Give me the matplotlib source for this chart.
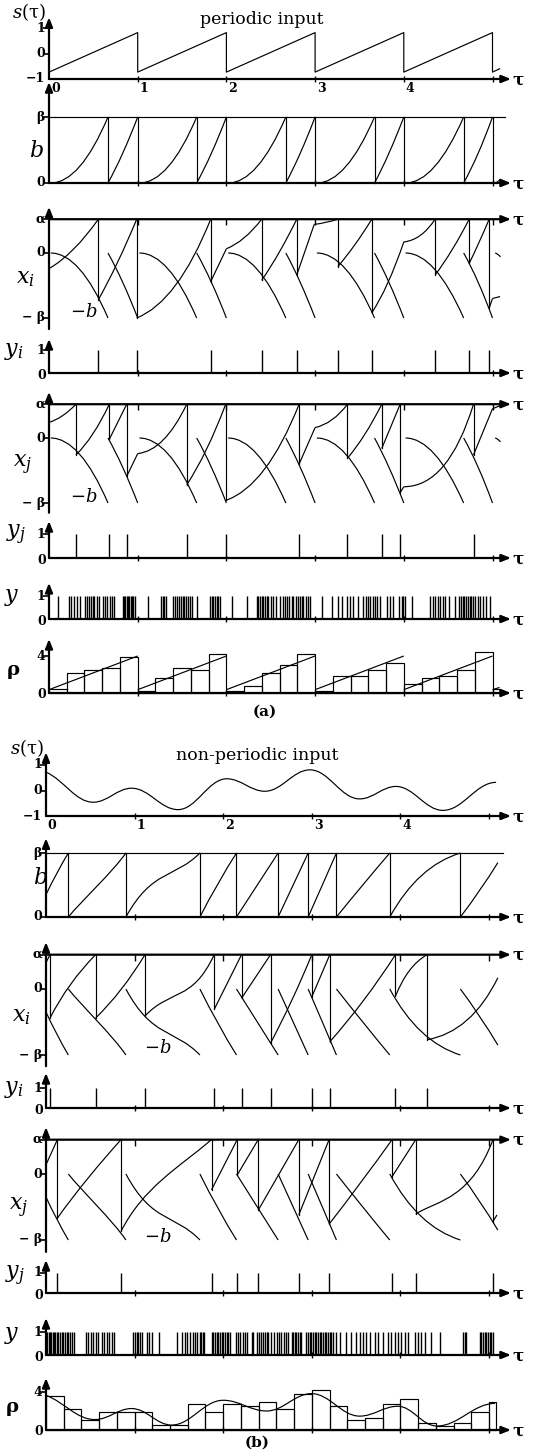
import matplotlib
matplotlib.use("Agg")
import matplotlib.pyplot as plt
from matplotlib.path import Path
from matplotlib.patches import PathPatch
from matplotlib.markers import TICKLEFT
import numpy as np

plt.rcParams['font.family'] = ['DejaVu Serif']
plt.rcParams['mathtext.fontset'] = 'dejavuserif'

W, H = 536, 1456
A = 0.52          # alpha level (beta = 1)
XTICKS = [1, 2, 3, 4, 5]

# ======================= (a) periodic input =======================
s_a_t = [0, 1, 1, 2, 2, 3, 3, 4, 4, 5, 5, 5.08]
s_a_v = [-0.73, 0.82, -0.73, 0.82, -0.73, 0.82, -0.73, 0.82, -0.73, 0.82, -0.73, -0.6]

b_a = [
    [(0.02, 0.0), (0.35, 0.0), (0.665, 1.0)],
    [(0.665, 0.0), (0.83, 0.4), (1.0, 1.0)],
    [(1.02, 0.0), (1.35, 0.0), (1.665, 1.0)],
    [(1.665, 0.0), (1.83, 0.4), (2.0, 1.0)],
    [(2.02, 0.0), (2.35, 0.0), (2.67, 1.0)],
    [(2.67, 0.0), (2.83, 0.4), (3.0, 1.0)],
    [(3.02, 0.0), (3.35, 0.0), (3.67, 1.0)],
    [(3.67, 0.0), (3.83, 0.4), (4.0, 1.0)],
    [(4.02, 0.0), (4.35, 0.0), (4.675, 1.0)],
    [(4.675, 0.0), (4.84, 0.4), (5.0, 1.0)],
    [(5.03, 0.0), (5.06, 0.01), (5.09, 0.06)],
]

xi_a = [
    [[(0.0, -0.24), (0.28, -0.02), (0.556, A)]],
    [[(0.556, -0.72), (0.77, -0.2), (0.989, A)]],
    [[(0.989, -1.0), (1.45, -0.75), (1.823, A)]],
    [[(1.823, -0.44), (2.0, 0.066)], [(2.0, 0.066), (2.2, 0.17), (2.398, A)]],
    [[(2.398, -0.42), (2.6, -0.02), (2.793, A)]],
    [[(2.793, -0.34), (2.99, 0.44)], [(2.99, 0.44), (3.12, 0.46), (3.256, A)]],
    [[(3.256, -0.21), (3.45, 0.1), (3.639, A)]],
    [[(3.639, -0.92), (3.82, -0.55), (4.0, 0.17)], [(4.0, 0.17), (4.2, 0.2), (4.353, A)]],
    [[(4.353, -0.34), (4.55, 0.02), (4.737, A)]],
    [[(4.737, -0.16), (4.85, 0.15), (4.962, A)]],
    [[(4.962, -0.85), (5.0, -0.70)], [(5.0, -0.70), (5.086, -0.67)]],
]

xj_a = [
    [[(0.0, 0.24), (0.15, 0.30), (0.304, A)]],
    [[(0.304, -0.26), (0.5, 0.0), (0.68, A)]],
    [[(0.68, -0.02), (0.876, A)]],
    [[(0.876, -0.59), (1.0, -0.24)], [(1.0, -0.24), (1.3, -0.2), (1.553, A)]],
    [[(1.553, -0.72), (1.78, -0.25), (1.992, A)]],
    [[(1.992, -0.96), (2.45, -0.75), (2.82, A)]],
    [[(2.82, -0.40), (3.0, 0.16)], [(3.0, 0.16), (3.2, 0.22), (3.365, A)]],
    [[(3.365, -0.31), (3.56, 0.0), (3.752, A)]],
    [[(3.752, -0.16), (3.959, A)]],
    [[(3.959, -0.84), (4.0, -0.75)], [(4.0, -0.75), (4.5, -0.75), (4.786, A)]],
    [[(4.786, -0.26), (5.0, 0.45)], [(5.0, 0.45), (5.09, 0.5)]],
]

yi_a = [0.556, 0.989, 1.823, 2.398, 2.793, 3.256, 3.639, 4.353, 4.737, 4.962]
yj_a = [0.304, 0.68, 0.876, 1.553, 1.992, 2.82, 3.365, 3.752, 3.959, 4.786]

y_a = [0.105, 0.229, 0.248, 0.282, 0.320, 0.350, 0.406, 0.432, 0.455, 0.470,
       0.492, 0.511, 0.538, 0.564, 0.613, 0.632, 0.658, 0.688, 0.714, 0.737,
       0.831, 0.846, 0.861, 0.876, 0.891, 0.906, 0.921, 0.936, 0.951, 0.970,
       1.120, 1.263, 1.282, 1.301, 1.316, 1.402, 1.421, 1.440, 1.466, 1.489,
       1.508, 1.526, 1.545, 1.571, 1.590, 1.609, 1.665, 1.816, 1.835, 1.853,
       1.872, 1.891, 1.910, 1.929, 2.060, 2.229, 2.342, 2.361, 2.380, 2.398,
       2.417, 2.436, 2.455, 2.474, 2.500, 2.530, 2.560, 2.605, 2.635, 2.662,
       2.688, 2.711, 2.737, 2.756, 2.786, 2.812, 2.831, 2.850, 2.868, 2.898,
       2.925, 2.944, 3.075, 3.188, 3.263, 3.301, 3.357, 3.395, 3.432, 3.489,
       3.545, 3.571, 3.594, 3.620, 3.650, 3.677, 3.695, 3.733, 3.808, 3.846,
       3.876, 3.951, 3.977, 3.996, 4.015, 4.090, 4.297, 4.327, 4.353, 4.380,
       4.410, 4.440, 4.466, 4.504, 4.579, 4.617, 4.643, 4.665, 4.684, 4.703,
       4.722, 4.741, 4.759, 4.778, 4.805, 4.831, 4.857, 4.895, 4.932, 4.970]

rho_a_bins = [0.43, 2.14, 2.5, 2.75, 3.93,
              0.18, 1.6, 2.75, 2.5, 4.2,
              0.18, 0.71, 2.14, 3.04, 4.2,
              0.18, 1.86, 1.86, 2.5, 3.29,
              0.96, 1.6, 1.86, 2.5, 4.46]
rho_a_tail = 0.43
rho_a_line = [[(0, 0.36), (1, 4.0)], [(1, 0.36), (2, 4.0)], [(2, 0.36), (3, 4.0)],
              [(3, 0.36), (4, 4.0)], [(4, 0.36), (5, 4.0)], [(5, 0.36), (5.08, 0.6)]]

# ======================= (b) non-periodic input =======================
s_b_t = [0.0, 0.534, 0.966, 1.49, 2.04, 2.47, 2.98, 3.54, 3.95, 4.48, 5.08]
s_b_v = [0.72, -0.46, 0.09, -0.75, 0.46, -0.03, 0.81, -0.33, 0.16, -0.78, 0.32]
s_b_start_slope = -1.5

b_b = [
    [(0.0, 0.35), (0.12, 0.70), (0.252, 1.0)],
    [(0.252, 0.0), (0.40, 0.25), (0.75, 0.70), (0.902, 1.0)],
    [(0.902, 0.0), (1.20, 0.75), (1.45, 0.60), (1.737, 1.0)],
    [(1.737, 0.0), (1.94, 0.55), (2.15, 1.0)],
    [(2.15, 0.0), (2.385, 0.5), (2.62, 1.0)],
    [(2.62, 0.0), (2.79, 0.5), (2.959, 1.0)],
    [(2.959, 0.0), (3.12, 0.5), (3.278, 1.0)],
    [(3.278, 0.0), (3.6, 0.55), (3.88, 1.0)],
    [(3.88, 0.0), (4.2, 0.8), (4.677, 1.0)],
    [(4.677, 0.0), (4.9, 0.4), (5.1, 0.85)],
]

xi_b = [
    [[(0.0, 0.40), (0.045, A)]],
    [[(0.045, -0.44), (0.25, 0.10), (0.56, A)]],
    [[(0.56, -0.44), (0.86, -0.05), (1.117, A)]],
    [[(1.117, -0.41), (1.40, 0.0), (1.65, -0.2), (1.898, A)]],
    [[(1.898, -0.31), (2.207, A)]],
    [[(2.207, -0.14), (2.534, A)]],
    [[(2.534, -0.82), (2.78, -0.2), (3.0, A)]],
    [[(3.0, -0.12), (3.203, A)]],
    [[(3.203, -0.80), (3.6, -0.2), (3.944, A)]],
    [[(3.944, -0.11), (4.08, 0.35), (4.3, A)]],
    [[(4.3, -0.77), (4.8, -0.65), (5.1, 0.17)]],
]

xj_b = [
    [[(0.0, 0.14), (0.128, A)]],
    [[(0.128, -0.67), (0.35, -0.25), (0.6, 0.15), (0.846, A)]],
    [[(0.846, -0.87), (1.1, -0.2), (1.5, 0.1), (1.868, A)]],
    [[(1.868, -0.24), (2.158, A)]],
    [[(2.158, -0.015), (2.395, A)]],
    [[(2.395, -0.55), (2.853, A)]],
    [[(2.853, -0.62), (3.195, A)]],
    [[(3.195, -0.76), (3.55, -0.15), (3.906, A)]],
    [[(3.906, -0.04), (4.173, A)]],
    [[(4.173, -0.6), (4.45, -0.4), (4.8, -0.35), (5.045, A)]],
    [[(5.045, -0.72), (5.09, -0.62)]],
]

yi_b = [0.045, 0.56, 1.117, 1.898, 2.207, 2.534, 3.0, 3.203, 3.944, 4.3]
yj_b = [0.128, 0.846, 1.868, 2.158, 2.395, 2.853, 3.195, 3.906, 4.173, 5.045]

y_b = [0.015, 0.030, 0.045, 0.060, 0.075, 0.090, 0.105, 0.120, 0.139, 0.158,
       0.177, 0.195, 0.214, 0.233, 0.252, 0.271, 0.289, 0.316,
       0.451, 0.477, 0.504, 0.534, 0.564, 0.590, 0.628, 0.654, 0.684, 0.714,
       0.741, 0.767, 0.985, 1.004, 1.023, 1.041, 1.060, 1.079, 1.135, 1.165,
       1.192, 1.278, 1.474, 1.530, 1.568, 1.586, 1.624, 1.662, 1.680, 1.699,
       1.737, 1.752, 1.767, 1.782, 1.868, 1.887, 1.906, 1.925, 1.944, 1.962,
       1.981, 2.000, 2.019, 2.038, 2.056, 2.075, 2.150, 2.169, 2.188, 2.218,
       2.244, 2.263, 2.320, 2.338, 2.376, 2.406, 2.432, 2.451, 2.470, 2.489,
       2.508, 2.545, 2.571, 2.602, 2.632, 2.658, 2.684, 2.707, 2.733, 2.771,
       2.789, 2.808, 2.827, 2.846, 2.865, 2.883, 2.940, 2.959, 2.977, 2.996,
       3.015, 3.034, 3.053, 3.071, 3.090, 3.109, 3.128, 3.147, 3.165, 3.184,
       3.203, 3.222, 3.241, 3.278, 3.316, 3.391, 3.447, 3.504, 3.541, 3.579,
       3.617, 3.654, 3.711, 3.748, 3.805, 3.861, 3.898, 3.936, 3.974, 4.011,
       4.049, 4.086, 4.162, 4.199, 4.237, 4.274, 4.350, 4.444, 4.707, 4.726,
       4.744, 4.895, 4.914, 4.932, 4.951, 4.970, 4.989, 5.008, 5.026, 5.045]

rho_b_bins = [3.55, 2.2, 1.05, 1.9, 1.9,
              1.9, 0.5, 0.5, 2.7, 1.9,
              2.7, 2.5, 3.0, 2.2, 3.8,
              4.2, 2.5, 1.05, 1.3, 2.7,
              3.3, 0.75, 0.4, 0.75, 1.9]
rho_b_tail = 2.9
rho_b_t = [0.0, 0.553, 0.966, 1.417, 2.0, 2.49, 2.996, 3.54, 3.97, 4.41, 5.07]
rho_b_v = [3.65, 1.1, 2.26, 0.52, 3.13, 2.0, 3.83, 1.46, 2.5, 0.42, 2.8]
rho_b_start_slope = -3.5

BIN_W = 0.2

# ======================= drawing helpers =======================
fig = plt.figure(figsize=(W / 100, H / 100), dpi=100)
fig.patch.set_facecolor('white')

LW_AX = 1.6
LW_C = 0.85
TICK_FS = 9


def panel(x0, sx, v1, p1, v2, p2):
    ax = fig.add_axes([0, 0, 1, 1])
    ax.set_xlim(-x0 / sx, (W - x0) / sx)
    k = (v2 - v1) / (p2 - p1)
    ax.set_ylim(v1 + (H - p1) * k, v1 - p1 * k)
    ax.axis('off')
    return ax


def bez(ax, pts, sign=1.0, lw=LW_C):
    pts = [(t, sign * v) for t, v in pts]
    n = len(pts)
    if n == 2:
        codes = [Path.MOVETO, Path.LINETO]
    elif n == 3:
        codes = [Path.MOVETO, Path.CURVE3, Path.CURVE3]
    else:
        codes = [Path.MOVETO, Path.CURVE4, Path.CURVE4, Path.CURVE4]
    ax.add_patch(PathPatch(Path(pts, codes), fill=False, lw=lw, ec='k',
                           capstyle='butt', clip_on=False))


def smooth(ax, ts, vs, start_slope=0.0, lw=LW_C):
    verts = [(ts[0], vs[0])]
    codes = [Path.MOVETO]
    for i in range(len(ts) - 1):
        d = ts[i + 1] - ts[i]
        h = 0.38 * d
        c1y = vs[i] + (start_slope * h if i == 0 else 0.0)
        verts += [(ts[i] + h, c1y), (ts[i + 1] - h, vs[i + 1]), (ts[i + 1], vs[i + 1])]
        codes += [Path.CURVE4] * 3
    ax.add_patch(PathPatch(Path(verts, codes), fill=False, lw=lw, ec='k', clip_on=False))


def arrow(ax, x0, y0, x1, y1):
    ax.annotate('', xy=(x1, y1), xytext=(x0, y0), annotation_clip=False,
                arrowprops=dict(arrowstyle='-|>,head_length=0.55,head_width=0.22',
                                lw=LW_AX, color='k', shrinkA=0, shrinkB=0))


def tlabel(ax, text, xy, dx, dy, ha='right'):
    ax.annotate(text, xy=xy, xytext=(dx, dy), textcoords='offset points',
                ha=ha, va='center', fontsize=TICK_FS, fontweight='bold',
                annotation_clip=False)


def frame(ax, base, ylo, yhi, yticks, ylabels, xend, xtick_marker='|'):
    arrow(ax, 0, base, xend, base)
    arrow(ax, 0, ylo, 0, yhi)
    ax.plot(XTICKS, [base] * len(XTICKS), ls='none', marker=xtick_marker, ms=4,
            mew=1.0, color='k', clip_on=False)
    ax.plot([0] * len(yticks), yticks, ls='none', marker=TICKLEFT, ms=4,
            mew=1.2, color='k', clip_on=False)
    for v, lab in zip(yticks, ylabels):
        tlabel(ax, lab, (0, v), -3, 0)
    ax.annotate('τ', xy=(xend, base), xytext=(1.0, -0.5), textcoords='offset points',
                ha='left', va='center', fontsize=12, fontweight='bold',
                annotation_clip=False)


def ptext(px, py, s, size=12, **kw):
    fig.text(px / W, 1 - py / H, s, ha='center', va='center', fontsize=size, **kw)


def trajectory(ax, segs):
    for i, seg in enumerate(segs):
        for piece in seg:
            bez(ax, piece)
        if i + 1 < len(segs):
            t_end = seg[-1][-1][0]
            y_end = seg[-1][-1][1]
            y_next = segs[i + 1][0][0][1]
            ax.plot([t_end, t_end], [y_end, y_next], color='k', lw=LW_C, clip_on=False)


def b_panel(ax, ramps, hline_end):
    ax.plot([0, hline_end], [1, 1], color='k', lw=LW_C, clip_on=False)
    for r in ramps:
        bez(ax, r)
        if r[-1][1] >= 0.999:
            ax.plot([r[-1][0], r[-1][0]], [0, 1], color='k', lw=LW_C, clip_on=False)


def spikes(ax, times):
    ax.vlines(times, 0, 1, colors='k', lw=1.0, clip_on=False)


def rho_bars(ax, bins, tail):
    left = np.arange(len(bins)) * BIN_W
    ax.bar(left, bins, width=BIN_W, align='edge', fill=False, edgecolor='k',
           lw=0.85, clip_on=False)
    ax.bar([len(bins) * BIN_W], [tail], width=0.08, align='edge', fill=False,
           edgecolor='k', lw=0.85, clip_on=False)


def s_ticklabels(ax, base):
    for k in range(5):
        tlabel(ax, str(k), (k, base), 4.5, -6.5, ha='center')


# ======================= (a) =======================
XA0, SXA = 49, 88.7
XEND_A = (511 - XA0) / SXA

ax = panel(XA0, SXA, 1, 28, -1, 79)
ax.plot(s_a_t, s_a_v, color='k', lw=LW_C, clip_on=False)
frame(ax, -1, -1, 1.42, [1, 0], ['1', '0'], XEND_A)
tlabel(ax, '−1', (0, -1), -3, 0)
s_ticklabels(ax, -1)
ptext(29, 12, r'$s$(τ)', size=13)
ptext(262, 20, 'periodic input', size=12.5)

ax = panel(XA0, SXA, 1, 117, 0, 183)
b_panel(ax, b_a, 5.14)
frame(ax, 0, 0, 1.53, [1, 0], ['β', '0'], XEND_A)
ptext(36, 151, r'$b$', size=16)

ax = panel(XA0, SXA, 0, 253, -1, 318)
for r in b_a:
    bez(ax, r, sign=-1)
trajectory(ax, xi_a)
frame(ax, A, -1.17, 0.71, [A, 0, -1], ['α', '0', '− β'], XEND_A, xtick_marker=3)
ptext(25, 278, r'$x_i$', size=16)
ptext(84, 312, r'$-b$', size=13)

ax = panel(XA0, SXA, 1, 350, 0, 373)
spikes(ax, yi_a)
frame(ax, 0, 0, 1.48, [1], ['1'], XEND_A)
tlabel(ax, '0', (0, 0), -2, -2)
ptext(14, 351, r'$y_i$', size=16)

ax = panel(XA0, SXA, 0, 438, -1, 503)
for r in b_a:
    bez(ax, r, sign=-1)
trajectory(ax, xj_a)
frame(ax, A, -1.15, 0.71, [A, 0, -1], ['α', '0', '− β'], XEND_A, xtick_marker=3)
ptext(23, 465, r'$x_j$', size=16)
ptext(84, 497, r'$-b$', size=13)

ax = panel(XA0, SXA, 1, 534, 0, 558)
spikes(ax, yj_a)
frame(ax, 0, 0, 1.54, [1], ['1'], XEND_A)
tlabel(ax, '0', (0, 0), -2, -2)
ptext(16, 535, r'$y_j$', size=16)

ax = panel(XA0, SXA, 1, 596, 0, 619)
spikes(ax, y_a)
frame(ax, 0, 0, 1.57, [1], ['1'], XEND_A)
tlabel(ax, '0', (0, 0), -2, -2)
ptext(12, 597, r'$y$', size=16)

ax = panel(XA0, SXA, 4, 656, 0, 693)
rho_bars(ax, rho_a_bins, rho_a_tail)
for seg in rho_a_line:
    bez(ax, seg)
frame(ax, 0, 0, 5.84, [4], ['4'], XEND_A)
tlabel(ax, '0', (0, 0), -2, -1)
ptext(13, 670, 'ρ', size=14, fontweight='bold')
ptext(265, 712, '(a)', size=11, fontweight='bold')

# ======================= (b) =======================
XB0, SXB = 46, 88.6
XEND_B = (511 - XB0) / SXB

ax = panel(XB0, SXB, 1, 765, -1, 816)
smooth(ax, s_b_t, s_b_v, s_b_start_slope)
frame(ax, -1, -1, 1.5, [1, 0], ['1', '0'], XEND_B)
tlabel(ax, '−1', (0, -1), -3, 0)
s_ticklabels(ax, -1)
ptext(27, 748, r'$s$(τ)', size=13)
ptext(257, 755, 'non-periodic input', size=12.5)

ax = panel(XB0, SXB, 1, 853, 0, 917)
b_panel(ax, b_b, 5.16)
frame(ax, 0, 0, 1.23, [1, 0], ['β', '0'], XEND_B)
ptext(40, 878, r'$b$', size=16)

ax = panel(XB0, SXB, 0, 989, -1, 1055)
for r in b_b:
    bez(ax, r, sign=-1)
trajectory(ax, xi_b)
frame(ax, A, -1.17, 0.71, [A, 0, -1], ['α', '0', '− β'], XEND_B, xtick_marker=3)
ptext(21, 1016, r'$x_i$', size=16)
ptext(158, 1048, r'$-b$', size=13)

ax = panel(XB0, SXB, 1, 1088, 0, 1108)
spikes(ax, yi_b)
frame(ax, 0, 0, 1.75, [1], ['1'], XEND_B)
tlabel(ax, '0', (0, 0), -2, -2)
ptext(14, 1089, r'$y_i$', size=16)

ax = panel(XB0, SXB, 0, 1174, -1, 1240)
for r in b_b:
    bez(ax, r, sign=-1)
trajectory(ax, xj_b)
frame(ax, A, -1.18, 0.71, [A, 0, -1], ['α', '0', '− β'], XEND_B, xtick_marker=3)
ptext(19, 1208, r'$x_j$', size=16)
ptext(158, 1237, r'$-b$', size=13)

ax = panel(XB0, SXB, 1, 1273, 0, 1293)
spikes(ax, yj_b)
frame(ax, 0, 0, 1.65, [1], ['1'], XEND_B)
tlabel(ax, '0', (0, 0), -2, -2)
ptext(15, 1276, r'$y_j$', size=16)

ax = panel(XB0, SXB, 1, 1332, 0, 1355)
spikes(ax, y_b)
frame(ax, 0, 0, 1.61, [1], ['1'], XEND_B)
tlabel(ax, '0', (0, 0), -2, -2)
ptext(12, 1335, r'$y$', size=16)

ax = panel(XB0, SXB, 4, 1392, 0, 1430)
rho_bars(ax, rho_b_bins, rho_b_tail)
smooth(ax, rho_b_t, rho_b_v, rho_b_start_slope)
frame(ax, 0, 0, 5.47, [4], ['4'], XEND_B)
tlabel(ax, '0', (0, 0), -2, -1)
ptext(12, 1407, 'ρ', size=14, fontweight='bold')
ptext(257, 1443, '(b)', size=11, fontweight='bold')

fig.savefig('out.png', dpi=100, facecolor='white')
